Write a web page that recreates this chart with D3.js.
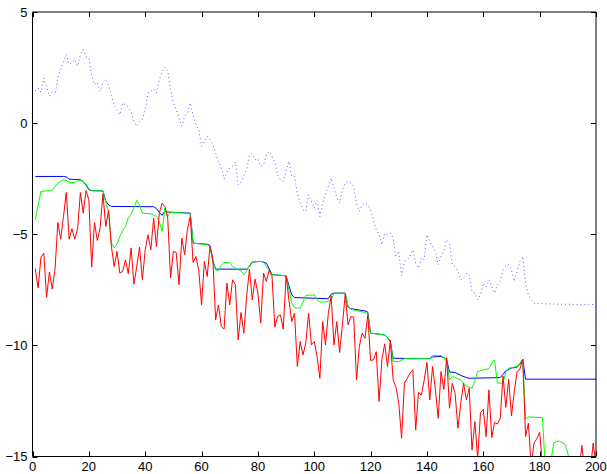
<!DOCTYPE html>
<html lang="en">
<head>
    <meta charset="UTF-8">
    <title>Tracking</title>
    <script src="https://cdn.jsdelivr.net/npm/d3@7"></script>
    <style>
        body { margin: 0; background: white; }
        .tick-label {
            font-family: "Liberation Sans", Arial, Helvetica, sans-serif;
            font-size: 13px;
            fill: black;
        }
    </style>
</head>
<body>

<script>
    const width = 607, height = 474;

    // x ticks and y ticks
    const xTicks = [0, 20, 40, 60, 80, 100, 120, 140, 160, 180, 200];
    const yTicks = [-15, -10, -5, 0, 5];

    // noisy measurement (red), one value per step, x = 1..200
    const redValues = [
        -6.55, -7.42, -6.03, -5.85, -7.83, -6.70, -7.47, -6.57, -4.47, -5.22,
        -4.20, -3.12, -5.22, -4.75, -5.22, -4.77, -3.12, -4.05, -3.03, -3.45,
        -6.48, -4.47, -5.28, -4.72, -3.18, -4.65, -3.93, -5.55, -6.45, -5.77,
        -6.75, -6.67, -6.15, -6.78, -5.62, -7.25, -6.45, -5.58, -7.05, -5.70,
        -5.02, -5.70, -4.27, -5.55, -4.05, -3.60, -3.75, -4.27, -6.97, -5.77,
        -5.82, -7.27, -5.17, -5.92, -4.77, -4.20, -6.27, -6.00, -6.60, -8.18,
        -6.22, -6.90, -5.55, -6.07, -8.85, -8.18, -9.15, -9.27, -7.20, -8.18,
        -7.05, -7.27, -9.75, -8.52, -9.45, -7.80, -6.57, -7.95, -7.02, -7.65,
        -9.00, -6.75, -7.12, -6.63, -6.87, -9.18, -8.70, -8.63, -9.27, -6.87,
        -7.95, -8.93, -8.55, -10.95, -9.83, -10.43, -9.90, -8.55, -9.98, -9.83,
        -10.50, -11.48, -8.93, -9.98, -8.55, -7.77, -9.98, -8.93, -10.32, -9.08,
        -7.68, -9.08, -8.70, -8.73, -11.55, -10.05, -9.45, -9.68, -8.63, -10.68,
        -10.65, -10.28, -12.53, -10.65, -9.93, -10.95, -9.78, -11.55, -11.88, -12.60,
        -14.18, -11.70, -11.48, -11.25, -11.10, -13.81, -12.12, -12.24, -11.58, -10.77,
        -12.45, -10.95, -12.00, -13.28, -11.18, -11.98, -10.55, -12.83, -11.70, -12.18,
        -13.73, -12.60, -11.70, -12.45, -11.93, -14.71, -13.43, -15.08, -13.03, -12.88,
        -14.11, -12.00, -14.15, -13.46, -13.54, -13.28, -11.37, -12.79, -11.52, -13.18,
        -12.08, -11.18, -11.07, -10.62, -14.10, -13.50, -15.40, -14.40, -14.20, -13.90,
        -15.40, -16.20, -16.80, -16.10, -17.00, -16.40, -15.90, -16.60, -17.20, -16.30,
        -15.80, -16.70, -16.00, -15.60, -14.50, -15.70, -16.40, -15.60, -14.40, -15.40
    ];

    // true state (blue dotted), x = 1..200
    const trueValues = [
        1.46, 1.58, 1.39, 2.03, 1.63, 1.21, 1.42, 1.28, 2.03, 2.49,
        2.74, 3.08, 2.64, 2.74, 2.86, 2.56, 3.08, 3.31, 2.98, 2.94,
        2.11, 1.73, 1.84, 1.43, 1.84, 1.96, 1.73, 1.21, 0.79, 0.61,
        0.38, 0.90, 0.83, 0.73, 0.49, 0.08, -0.14, 0.08, 0.16, 0.61,
        1.36, 1.43, 1.54, 1.36, 1.96, 2.29, 2.53, 2.34, 1.51, 0.91,
        0.61, 0.23, -0.14, 0.31, 0.46, 0.91, 0.38, -0.07, -0.29, -1.04,
        -0.82, -0.59, -0.74, -0.95, -1.35, -1.75, -1.95, -2.52, -2.24, -2.02,
        -1.94, -1.76, -2.77, -2.67, -2.32, -2.09, -1.46, -1.35, -1.64, -1.61,
        -1.94, -1.87, -1.42, -1.27, -1.49, -1.79, -2.32, -2.55, -2.62, -2.17,
        -1.72, -2.40, -2.40, -3.15, -3.60, -3.90, -3.97, -3.22, -3.52, -3.82,
        -3.48, -4.20, -3.60, -3.15, -2.85, -2.47, -2.92, -3.33, -3.60, -3.00,
        -2.70, -2.62, -2.70, -2.85, -3.60, -3.97, -3.67, -3.60, -3.67, -3.90,
        -4.35, -4.80, -5.02, -5.47, -4.95, -5.02, -4.95, -5.17, -6.00, -5.77,
        -6.87, -6.22, -6.15, -6.00, -5.70, -6.30, -6.52, -6.07, -6.15, -5.02,
        -5.32, -5.55, -5.77, -6.37, -6.00, -5.70, -5.25, -5.40, -6.37, -6.45,
        -6.67, -7.05, -6.97, -6.75, -6.82, -7.57, -7.65, -7.95, -7.73, -7.20,
        -7.38, -7.05, -7.35, -7.65, -7.27, -7.12, -6.60, -6.42, -6.37, -6.60,
        -7.12, -6.67, -6.22, -6.00, -7.20, -7.73, -7.95, -8.10, -8.12, -8.12,
        -8.12, -8.13, -8.13, -8.14, -8.14, -8.14, -8.15, -8.15, -8.15, -8.15,
        -8.15, -8.16, -8.16, -8.16, -8.16, -8.16, -8.16, -8.16, -8.16, -8.16
    ];

    // blue solid estimate: break points [x, y]
    const bluePoints = [
        [1, -2.40], [11, -2.40], [12, -2.42], [13, -2.52], [17, -2.55], [18, -2.62],
        [19, -2.78], [20, -3.00], [21, -3.04], [25, -3.05], [26, -3.50], [27, -3.68],
        [28, -3.75], [43, -3.76], [44, -3.85], [45, -4.02], [46, -4.15], [47, -3.95],
        [48, -4.00], [56, -4.05], [57, -5.40], [62, -5.45], [63, -5.50], [64, -6.20],
        [65, -6.57], [76, -6.57], [77, -6.45], [78, -6.25], [81, -6.22], [83, -6.30],
        [84, -6.55], [85, -6.82], [90, -6.87], [91, -7.30], [92, -7.72], [93, -7.85],
        [105, -7.90], [106, -7.70], [107, -7.65], [111, -7.65], [112, -8.28], [113, -8.35],
        [118, -8.45], [119, -8.50], [120, -9.45], [125, -9.53], [126, -9.65], [127, -9.82],
        [128, -10.58], [141, -10.60], [142, -10.52], [145, -10.50], [146, -10.55], [147, -10.65],
        [148, -11.20], [150, -11.22], [152, -11.35], [154, -11.45], [155, -11.48], [166, -11.45],
        [167, -11.30], [168, -11.15], [170, -11.02], [172, -10.98], [173, -10.85], [174, -10.62],
        [175, -11.52], [200, -11.52]
    ];

    // green estimate: break points [x, y]
    const greenPoints = [
        [1, -4.35], [2, -3.70], [3, -3.07], [7, -3.03], [8, -2.85], [9, -2.70],
        [10, -2.62], [11, -2.55], [12, -2.58], [13, -2.67], [15, -2.67], [16, -2.60],
        [17, -2.58], [18, -2.62], [19, -2.73], [20, -2.95], [21, -3.04], [25, -3.05],
        [26, -3.55], [27, -4.00], [28, -5.40], [29, -5.62], [30, -5.45], [31, -5.10],
        [32, -4.83], [33, -4.65], [34, -4.27], [35, -4.10], [36, -3.82], [37, -3.48],
        [38, -3.70], [39, -4.05], [42, -4.08], [44, -4.20], [45, -4.45], [46, -4.87],
        [47, -3.82], [48, -4.20], [49, -4.02], [55, -4.05], [56, -4.10], [57, -5.40],
        [62, -5.47], [63, -5.55], [64, -6.25], [65, -6.60], [66, -6.63], [67, -6.40],
        [68, -6.27], [70, -6.27], [71, -6.45], [73, -6.60], [74, -6.65], [75, -6.82],
        [76, -6.65], [77, -6.40], [78, -6.25], [81, -6.22], [82, -6.25], [83, -6.45],
        [84, -6.65], [85, -6.82], [90, -6.87], [91, -7.50], [92, -8.10], [93, -8.30],
        [95, -8.33], [96, -8.05], [97, -7.75], [100, -7.73], [101, -7.95], [102, -8.05],
        [104, -8.05], [106, -7.95], [107, -7.65], [111, -7.65], [112, -8.25], [113, -8.38],
        [118, -8.52], [119, -8.60], [120, -9.45], [125, -9.53], [126, -9.65], [127, -9.78],
        [128, -10.73], [130, -10.73], [132, -10.60], [141, -10.60], [142, -10.46], [145, -10.46],
        [146, -10.55], [147, -10.73], [148, -11.55], [149, -11.40], [151, -11.50], [152, -11.55],
        [154, -11.85], [156, -11.93], [157, -11.60], [158, -11.18], [160, -11.10], [162, -11.05],
        [163, -10.80], [164, -10.65], [165, -11.70], [167, -11.70], [168, -11.20], [169, -11.03],
        [172, -10.95], [173, -10.80], [174, -10.62], [175, -13.33], [176, -13.22], [181, -13.25],
        [182, -15.50], [183, -15.80], [184, -15.20], [185, -14.38], [187, -14.30], [188, -14.38],
        [189, -14.45], [190, -14.85], [191, -15.50], [192, -16.00], [200, -16.50]
    ];

    const plotLeft = 32.5, plotRight = 596, plotTop = 12, plotBottom = 456.5;

    const x = d3.scaleLinear().domain([0, 200]).range([plotLeft, plotRight]);
    const y = d3.scaleLinear().domain([-15, 5]).range([plotBottom, plotTop]);

    const svg = d3.select("body")
                  .append("svg")
                  .attr("width", width)
                  .attr("height", height)
                  .style("background", "white");

    svg.append("clipPath").attr("id", "plot-clip")
       .append("rect")
       .attr("x", plotLeft).attr("y", plotTop)
       .attr("width", plotRight - plotLeft).attr("height", plotBottom - plotTop);

    const plot = svg.append("g").attr("clip-path", "url(#plot-clip)");

    const line = d3.line().x(d => x(d[0])).y(d => y(d[1]));

    const trueSeries = trueValues.map((v, i) => [i + 1, v]);
    const redSeries  = redValues.map((v, i) => [i + 1, v]);

    // dotted true state
    plot.append("path")
        .datum(trueSeries)
        .attr("d", line)
        .attr("fill", "none")
        .attr("stroke", "#0000ff")
        .attr("stroke-width", 1)
        .attr("stroke-opacity", 0.7)
        .attr("stroke-dasharray", "0.9 3");

    plot.append("path")
        .datum(bluePoints)
        .attr("d", line)
        .attr("fill", "none")
        .attr("stroke", "#0000ff")
        .attr("stroke-width", 1);

    plot.append("path")
        .datum(greenPoints)
        .attr("d", line)
        .attr("fill", "none")
        .attr("stroke", "#00ff00")
        .attr("stroke-width", 1);

    plot.append("path")
        .datum(redSeries)
        .attr("d", line)
        .attr("fill", "none")
        .attr("stroke", "#ff0000")
        .attr("stroke-width", 1);

    // axes box
    const frame = svg.append("g").attr("stroke", "black").attr("stroke-width", 1);
    frame.append("line").attr("x1", plotLeft).attr("x2", plotLeft).attr("y1", plotTop).attr("y2", plotBottom);
    frame.append("line").attr("x1", plotLeft).attr("x2", plotRight).attr("y1", plotBottom).attr("y2", plotBottom);
    frame.append("line").attr("x1", plotRight).attr("x2", plotRight).attr("y1", plotTop).attr("y2", plotBottom);
    frame.append("line").attr("x1", plotLeft).attr("x2", plotRight).attr("y1", plotTop).attr("y2", plotTop);

    const tickLen = 5;

    // ticks on bottom and top, pointing inward
    frame.selectAll("line.xb").data(xTicks).join("line").attr("class", "xb")
         .attr("x1", d => Math.round(x(d)) + 0.5).attr("x2", d => Math.round(x(d)) + 0.5)
         .attr("y1", plotBottom).attr("y2", plotBottom - tickLen);
    frame.selectAll("line.xt").data(xTicks).join("line").attr("class", "xt")
         .attr("x1", d => Math.round(x(d)) + 0.5).attr("x2", d => Math.round(x(d)) + 0.5)
         .attr("y1", plotTop).attr("y2", plotTop + tickLen);

    // ticks on left and right
    frame.selectAll("line.yl").data(yTicks).join("line").attr("class", "yl")
         .attr("x1", plotLeft).attr("x2", plotLeft + tickLen)
         .attr("y1", d => Math.round(y(d)) + 0.5).attr("y2", d => Math.round(y(d)) + 0.5);
    frame.selectAll("line.yr").data(yTicks).join("line").attr("class", "yr")
         .attr("x1", plotRight).attr("x2", plotRight - tickLen)
         .attr("y1", d => Math.round(y(d)) + 0.5).attr("y2", d => Math.round(y(d)) + 0.5);

    const fmt = d3.format("d");

    svg.selectAll("text.xl").data(xTicks).join("text")
       .attr("class", "xl tick-label")
       .attr("x", d => x(d))
       .attr("y", 471)
       .attr("text-anchor", "middle")
       .text(fmt);

    svg.selectAll("text.yl").data(yTicks).join("text")
       .attr("class", "yl tick-label")
       .attr("x", 27.5)
       .attr("y", d => y(d) + 4.5)
       .attr("text-anchor", "end")
       .text(fmt);
</script>

</body>
</html>
